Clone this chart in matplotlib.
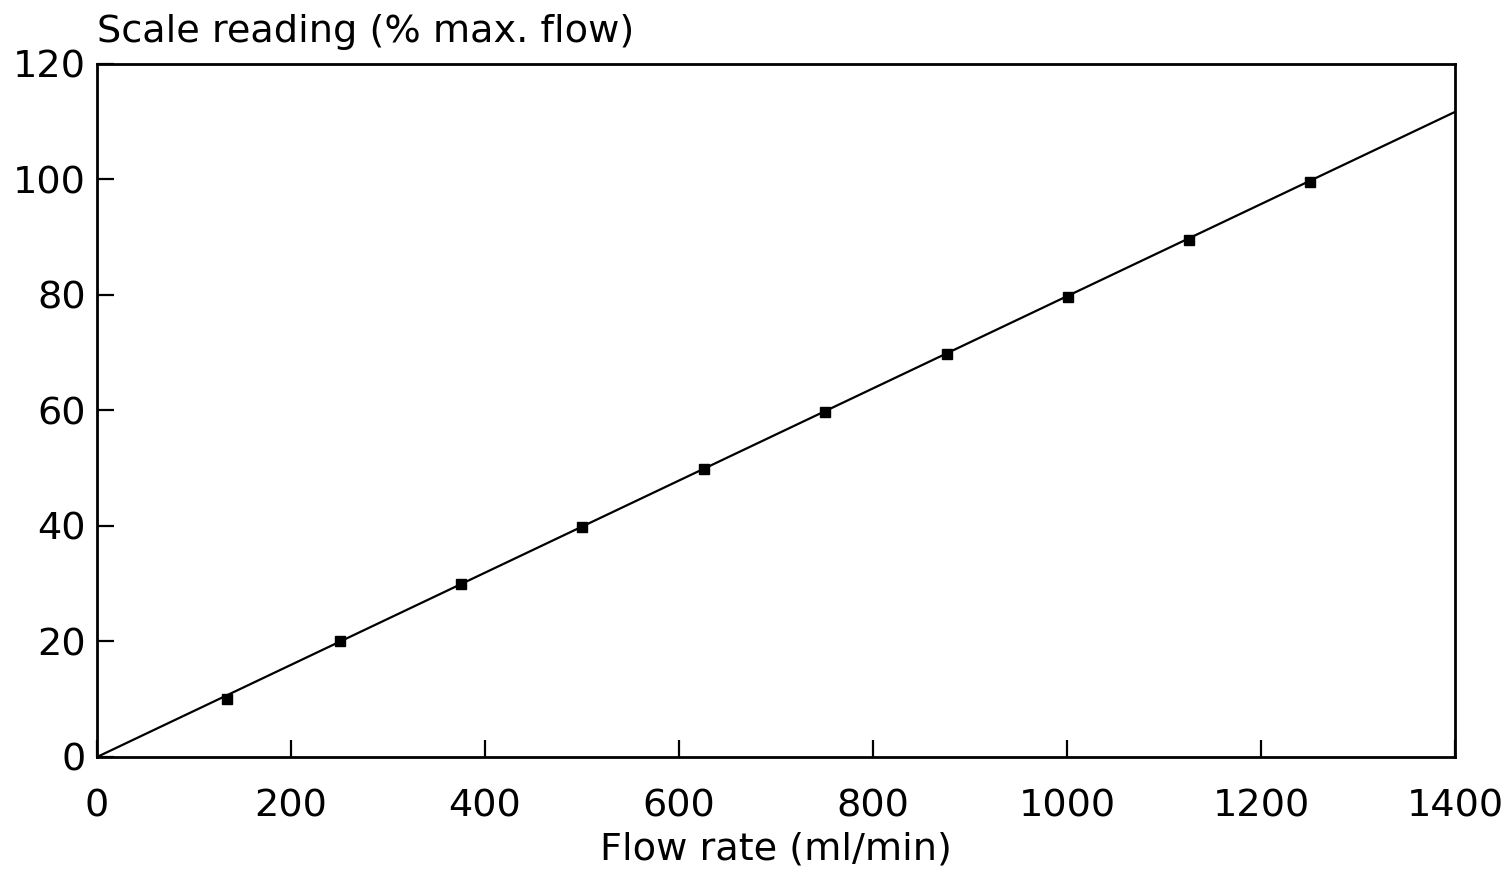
import numpy as np
import matplotlib.pyplot as plt

plt.rcParams['font.family'] = ['DejaVu Sans']

# measured calibration points
flow = [134, 250, 375, 500, 626, 751, 876, 1001, 1126, 1251]
reading = [10.1, 20.0, 29.9, 39.9, 49.9, 59.8, 69.7, 79.7, 89.6, 99.5]

# fitted line end points
fit_x = [0, 1400]
fit_y = [0, 111.7]

fig = plt.figure(figsize=(15.07, 8.74), dpi=100)
ax = fig.add_axes([0.0644, 0.1339, 0.9011, 0.7929])

ax.plot(fit_x, fit_y, color='black', linewidth=1.6)
ax.plot(flow, reading, linestyle='none', marker='s', markersize=7, color='black')

ax.set_xlim(0, 1400)
ax.set_ylim(0, 120)
ax.set_xticks(np.arange(0, 1401, 200))
ax.set_yticks(np.arange(0, 121, 20))

for s in ax.spines.values():
    s.set_linewidth(2)

ax.tick_params(direction='in', length=12, width=1.6, labelsize=27.5)
ax.tick_params(axis='x', pad=23)
ax.tick_params(axis='y', pad=8)

ax.set_xlabel('Flow rate (ml/min)', fontsize=27.5, labelpad=5)
ax.text(0, 1.02, 'Scale reading (% max. flow)', transform=ax.transAxes,
        fontsize=27.5, ha='left', va='bottom')

fig.savefig('out.png', dpi=100)
